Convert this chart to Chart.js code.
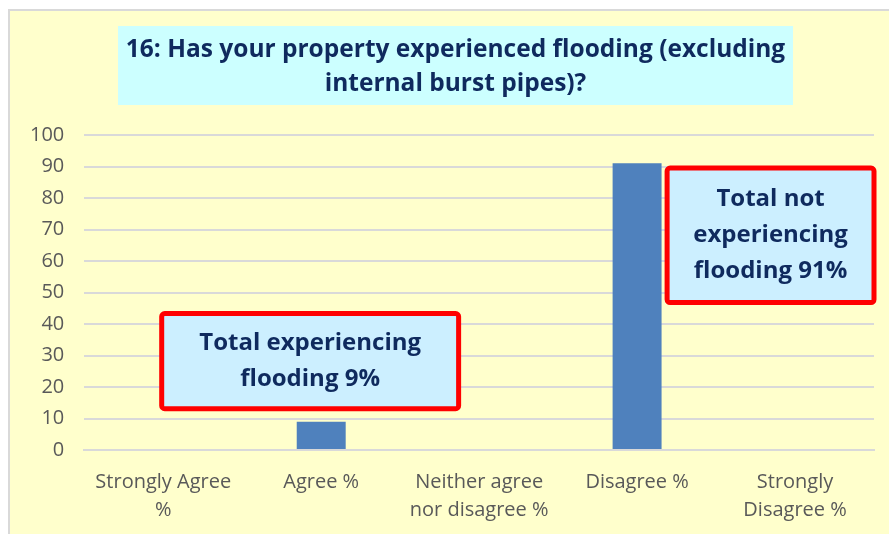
<!DOCTYPE html>
<html>
<head>
<meta charset="utf-8">
<script src="https://cdn.jsdelivr.net/npm/chart.js@4"></script>
<style>
    body { margin: 0; background: #fff; }
    #wrap { position: relative; width: 889px; height: 534px; }
</style>
</head>
<body>
<div id="wrap"><canvas id="floodChart" width="889" height="534"></canvas></div>
<script>
const categories = [['Strongly Agree', '%'], 'Agree %', ['Neither agree', 'nor disagree %'], 'Disagree %', ['Strongly', 'Disagree %']];
const percentages = [0, 9, 0, 91, 0];
const titleLines = ['16: Has your property experienced flooding (excluding', 'internal burst pipes)?'];

// callout boxes, anchored on category index / value units
const callouts = [
    { lines: ['Total experiencing', 'flooding 9%'], xMin: -0.01, xMax: 1.87, yMin: 13.1, yMax: 43.3 },
    { lines: ['Total not', 'experiencing', 'flooding 91%'], xMin: 3.19, xMax: 4.5, yMin: 46.8, yMax: 89.5 }
];

const FONT = "'Open Sans', 'Liberation Sans', sans-serif";
const NAVY = '#0F2A5E';

const decorPlugin = {
    id: 'decor',
    beforeDraw(chart) {
        const ctx = chart.ctx;
        ctx.save();
        ctx.fillStyle = '#FFFFCC';
        ctx.fillRect(9, 10, chart.width - 9, chart.height - 10);
        ctx.strokeStyle = '#D9D9D9';
        ctx.lineWidth = 2;
        ctx.beginPath();
        ctx.moveTo(9, chart.height);
        ctx.lineTo(9, 10);
        ctx.lineTo(chart.width, 10);
        ctx.stroke();
        // title box + title
        ctx.fillStyle = '#CCFFFF';
        ctx.fillRect(118, 26, 675, 79);
        ctx.fillStyle = NAVY;
        ctx.font = 'bold 24.5px ' + FONT;
        ctx.textAlign = 'center';
        ctx.textBaseline = 'middle';
        titleLines.forEach((line, i) => ctx.fillText(line, 455.5, 50 + i * 34));
        ctx.restore();
    },
    afterDraw(chart) {
        const ctx = chart.ctx;
        const x = chart.scales.x, y = chart.scales.y;
        const step = x.getPixelForValue(1) - x.getPixelForValue(0);
        ctx.save();
        callouts.forEach(c => {
            const left = x.getPixelForValue(0) + c.xMin * step;
            const right = x.getPixelForValue(0) + c.xMax * step;
            const top = y.getPixelForValue(c.yMax);
            const bottom = y.getPixelForValue(c.yMin);
            ctx.beginPath();
            ctx.roundRect(left, top, right - left, bottom - top, 3);
            ctx.fillStyle = '#CCEFFF';
            ctx.fill();
            ctx.lineWidth = 5;
            ctx.strokeStyle = '#FF0000';
            ctx.stroke();
            ctx.fillStyle = NAVY;
            ctx.font = 'bold 24px ' + FONT;
            ctx.textAlign = 'center';
            ctx.textBaseline = 'middle';
            const lh = 36;
            const cy = (top + bottom) / 2;
            c.lines.forEach((line, i) => {
                ctx.fillText(line, (left + right) / 2, cy + (i - (c.lines.length - 1) / 2) * lh);
            });
        });
        ctx.restore();
    }
};

new Chart(document.getElementById('floodChart'), {
    type: 'bar',
    data: {
        labels: categories,
        datasets: [{
            data: percentages,
            backgroundColor: '#4F81BD',
            borderWidth: 0,
            barPercentage: 0.62,
            categoryPercentage: 0.5
        }]
    },
    options: {
        responsive: false,
        animation: false,
        layout: { padding: { left: 10, right: 15, top: 135, bottom: 0 } },
        plugins: {
            legend: { display: false },
            tooltip: { enabled: false },
            title: { display: false }
        },
        scales: {
            y: {
                min: 0,
                max: 100,
                ticks: { stepSize: 10, color: '#595959', font: { family: FONT, size: 20 }, padding: 20 },
                grid: { color: '#D9D9D9', lineWidth: 2, drawTicks: false },
                border: { display: false }
            },
            x: {
                ticks: { color: '#595959', font: { family: FONT, size: 20, lineHeight: 1.4 }, maxRotation: 0, padding: 10 },
                grid: { display: false },
                border: { color: '#D9D9D9', width: 2 }
            }
        }
    },
    plugins: [decorPlugin]
});
</script>
</body>
</html>
